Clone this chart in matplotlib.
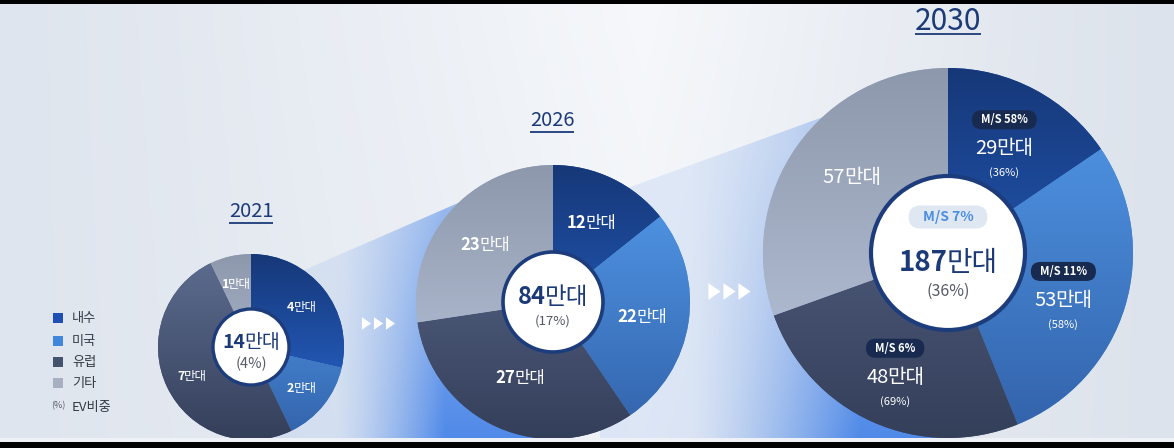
import numpy as np
import matplotlib
matplotlib.use('Agg')
import matplotlib.pyplot as plt
from matplotlib.patches import Circle, Rectangle, Polygon, FancyBboxPatch
from matplotlib.colors import LinearSegmentedColormap, to_rgb
from matplotlib.path import Path

# ---------------- data ----------------
years = ['2021', '2026', '2030']
regions = ['내수', '미국', '유럽', '기타']
sales_2021 = [4, 2, 7, 1]
sales_2026 = [12, 22, 27, 23]
sales_2030 = [29, 53, 48, 57]
totals = [14, 84, 187]
ev_share_total = ['4%', '17%', '36%']
ev_share_2030 = ['36%', '58%', '69%', None]
ms_2030 = ['58%', '11%', '6%', None]
ms_total_2030 = '7%'
unit = '만대'

# ---------------- style ----------------
FONT = ['Noto Sans CJK KR', 'DejaVu Sans']
plt.rcParams['font.family'] = FONT
W, H = 1174, 448
NAVY = '#1c3a78'
region_grad = [('#163878', '#2a6ad8'),   # 내수 (top, bottom)
               ('#549cec', '#3262aa'),   # 미국
               ('#5e6d90', '#343f5a'),   # 유럽
               ('#8d98ac', '#bcc8de')]   # 기타
legend_colors = ['#1d4fb5', '#3f86dc', '#46536f', '#a7b0c2']

fig = plt.figure(figsize=(W / 100, H / 100), dpi=100)
ax = fig.add_axes([0, 0, 1, 1])
ax.set_axis_off()
R = fig.canvas.get_renderer()


def Y(y):
    return H - y


# ---------------- background ----------------
xs = np.linspace(0, 1, W)
ys = np.linspace(0, 1, H)
X, YY = np.meshgrid(xs, ys)
c_edge_l = np.array(to_rgb('#dfe5ee'))
c_mid = np.array(to_rgb('#f6f8fb'))
c_edge_r = np.array(to_rgb('#dde3ec'))
t = np.where(X < 0.55, X / 0.55, (1 - X) / 0.45)
t = np.clip(t, 0, 1) ** 1.2
t = t * (1 - 0.25 * YY)
left = (X < 0.55)[..., None]
edge = np.where(left, c_edge_l, c_edge_r)
bg = edge * (1 - t[..., None]) + c_mid * t[..., None]
ax.imshow(bg, extent=(0, W, 0, H), origin='upper', zorder=0, aspect='auto',
          interpolation='bilinear')


# ---------------- funnels ----------------
def funnel(x_start, y_start, x_tan, slope, hide_x, hide_y, x0, x1,
           zorder=0.5):
    y_tan = y_start + slope * (x_tan - x_start)
    poly = Polygon([(x_start, Y(y_start)), (x_tan, Y(y_tan)),
                    (hide_x, Y(hide_y)), (hide_x, Y(441)),
                    (x_start, Y(441))], closed=True, fc='none', ec='none')
    ax.add_patch(poly)
    nx, ny = 300, 300
    gx = np.linspace(x_start, hide_x, nx)
    gy = np.linspace(y_tan, 441, ny)
    GX, GY = np.meshgrid(gx, gy)
    tx = np.clip((GX - x0) / (x1 - x0), 0, 1) ** 1.3
    ty = np.clip((GY - 150) / (441 - 150), 0, 1)
    alpha = 0.12 + 0.85 * tx * (0.35 + 0.65 * ty)
    img = np.zeros((ny, nx, 4))
    img[..., :3] = to_rgb('#4a86e8')
    img[..., 3] = np.clip(alpha, 0, 1)
    im = ax.imshow(img, extent=(x_start, hide_x, Y(441), Y(y_tan)),
                   origin='upper', zorder=zorder, aspect='auto',
                   interpolation='bilinear')
    im.set_clip_path(poly)


funnel(270, 285, 510, -0.436, 553, 302, 335, 445)
funnel(600, 198, 880, -0.363, 948, 253, 690, 860)


# ---------------- helpers ----------------
def two_part(x, yc, num, unt, size, color, wnum='bold', wunit='normal',
             z=6):
    spx = size * 100 / 72
    base = Y(yc + 0.365 * spx)
    t1 = ax.text(0, base, num, fontsize=size, weight=wnum, color=color,
                 ha='left', va='baseline', zorder=z)
    t2 = ax.text(0, base, unt, fontsize=size, weight=wunit, color=color,
                 ha='left', va='baseline', zorder=z)
    w1 = t1.get_window_extent(R).width
    w2 = t2.get_window_extent(R).width
    kern = 0.06 * spx
    x0 = x - (w1 + w2 - kern) / 2
    t1.set_x(x0)
    t2.set_x(x0 + w1 - kern)


def ctext(x, yc, s, size, color, weight='normal', z=6):
    ax.text(x, Y(yc), s, fontsize=size, color=color, weight=weight,
            ha='center', va='center', zorder=z)


def badge(x, yc, s, size, fc, tc, h, hpad, z=6):
    t = ax.text(x, Y(yc), s, fontsize=size, color=tc, weight='bold',
                ha='center', va='center', zorder=z + 0.1)
    w = t.get_window_extent(R).width + 2 * hpad
    p = FancyBboxPatch((x - w / 2, Y(yc) - h / 2), w, h,
                       boxstyle=f'round,pad=0,rounding_size={h / 2}',
                       fc=fc, ec='none', zorder=z)
    ax.add_patch(p)


def title(x, yc, s, size, uline_y):
    t = ax.text(x, Y(yc), s, fontsize=size, color=NAVY, weight='medium',
                ha='center', va='center', zorder=6)
    w = t.get_window_extent(R).width
    ax.plot([x - w / 2, x + w / 2], [Y(uline_y)] * 2, color=NAVY, lw=1.3,
            zorder=6, solid_capstyle='butt')


# ---------------- pies ----------------
layout = [
    dict(cx=251, cy=347, r=93, rin=38, lw=2.4, frac=[0.70] * 4, lsize=9,
         nudge=[(0, 0)] * 4),
    dict(cx=553, cy=302, r=137, rin=50, lw=2.6, frac=[0.65, 0.66, 0.60, 0.65],
         lsize=12, nudge=[(0, 0)] * 4),
    dict(cx=948, cy=253, r=185, rin=77, lw=3.0, frac=[0.65, 0.68, 0.70, 0.67],
         lsize=14.5, nudge=[(0, 0), (-5, 9), (0, 4), (5, -6)]),
]
all_sales = [sales_2021, sales_2026, sales_2030]
grad = np.linspace(0, 1, 256).reshape(-1, 1)
cmaps = [LinearSegmentedColormap.from_list(f'g{i}', [b, t_])
         for i, (t_, b) in enumerate(region_grad)]

wedge_sets = []
for L, vals in zip(layout, all_sales):
    cx, cy, r = L['cx'], Y(L['cy']), L['r']
    wedges, _ = ax.pie(vals, startangle=90, counterclock=False,
                       center=(cx, cy), radius=r, frame=False,
                       wedgeprops=dict(linewidth=0))
    for i, w in enumerate(wedges):
        w.set_facecolor(legend_colors[i])
        w.set_zorder(1)
        im = ax.imshow(grad, cmap=cmaps[i], origin='lower',
                       extent=(cx - r, cx + r, cy - r, cy + r), zorder=2,
                       interpolation='bilinear', aspect='auto')
        im.set_clip_path(w)
    wedge_sets.append(wedges)
    ax.add_patch(Circle((cx, cy), L['rin'], fc='white', ec='#1d3c7c',
                        lw=L['lw'], zorder=4))

# slice labels
for k, (L, vals, wedges) in enumerate(zip(layout, all_sales, wedge_sets)):
    for i, (v, w) in enumerate(zip(vals, wedges)):
        mid = np.deg2rad((w.theta1 + w.theta2) / 2)
        lx = L['cx'] + L['frac'][i] * L['r'] * np.cos(mid) + L['nudge'][i][0]
        ly = L['cy'] - L['frac'][i] * L['r'] * np.sin(mid) + L['nudge'][i][1]
        if k < 2:
            two_part(lx, ly, str(v), unit, L['lsize'], 'white',
                     wnum='bold', wunit='normal')
        else:
            two_part(lx, ly, str(v), unit, L['lsize'], 'white',
                     wnum='medium', wunit='normal')
            if ev_share_2030[i] is not None:
                ctext(lx, ly + 26, f'({ev_share_2030[i]})', 8, 'white',
                      weight='medium')
            if ms_2030[i] is not None:
                badge(lx, ly - 27, f'M/S {ms_2030[i]}', 8, '#182a4f',
                      'white', 19, 9)

# centre labels
two_part(251, 341, str(totals[0]), unit, 14, NAVY, wunit='normal')
ctext(251, 364, f'({ev_share_total[0]})', 10.5, '#555a66')
two_part(553, 295, str(totals[1]), unit, 17, NAVY, wunit='normal')
ctext(553, 321, f'({ev_share_total[1]})', 9.5, '#555a66')
badge(948, 217, f'M/S {ms_total_2030}', 10, '#dfe7f2', '#4a8ee0', 23, 14)
two_part(948, 261, str(totals[2]), unit, 20, NAVY, wunit='normal')
ctext(948, 291, f'({ev_share_total[2]})', 11.5, '#555a66')

# titles
title(251, 211, years[0], 14.5, 223)
title(552, 120, years[1], 14.5, 132)
title(948, 21, years[2], 21.5, 34)

# arrows
tri = Path([(-0.55, -0.75), (0.55, 0), (-0.55, 0.75), (-0.55, -0.75)],
           [Path.MOVETO, Path.LINETO, Path.LINETO, Path.CLOSEPOLY])
ax.plot([366, 378, 390], [Y(323)] * 3, ls='none', marker=tri, ms=9,
        mfc='white', mec='none', zorder=3)
ax.plot([714, 729, 744], [Y(291)] * 3, ls='none', marker=tri, ms=12,
        mfc='white', mec='none', zorder=3)

# legend
leg_y = [318, 341, 362, 383]
for c, lab, yy in zip(legend_colors, regions, leg_y):
    ax.add_patch(Rectangle((53, Y(yy) - 5), 10, 10, fc=c, ec='none', zorder=6))
    ax.text(72, Y(yy), lab, fontsize=9.5, color='#333a45', ha='left',
            va='center', zorder=6)
ax.text(58, Y(406), '(%)', fontsize=6.5, color='#555a66', ha='center',
        va='center', zorder=6)
ax.text(72, Y(407), 'EV비중', fontsize=9.5, color='#333a45', ha='left',
        va='center', zorder=6)

# frame strips
ax.add_patch(Rectangle((0, Y(442)), W, 4, fc='#eef1f5', ec='none', zorder=7))
ax.add_patch(Rectangle((0, 0), W, Y(442), fc='black', ec='none', zorder=8))
ax.add_patch(Rectangle((0, Y(3.5)), W, 3.5, fc='black', ec='none', zorder=8))

ax.set_xlim(0, W)
ax.set_ylim(0, H)
ax.set_aspect('auto')
ax.set_position([0, 0, 1, 1])
fig.savefig('out.png', dpi=100)
